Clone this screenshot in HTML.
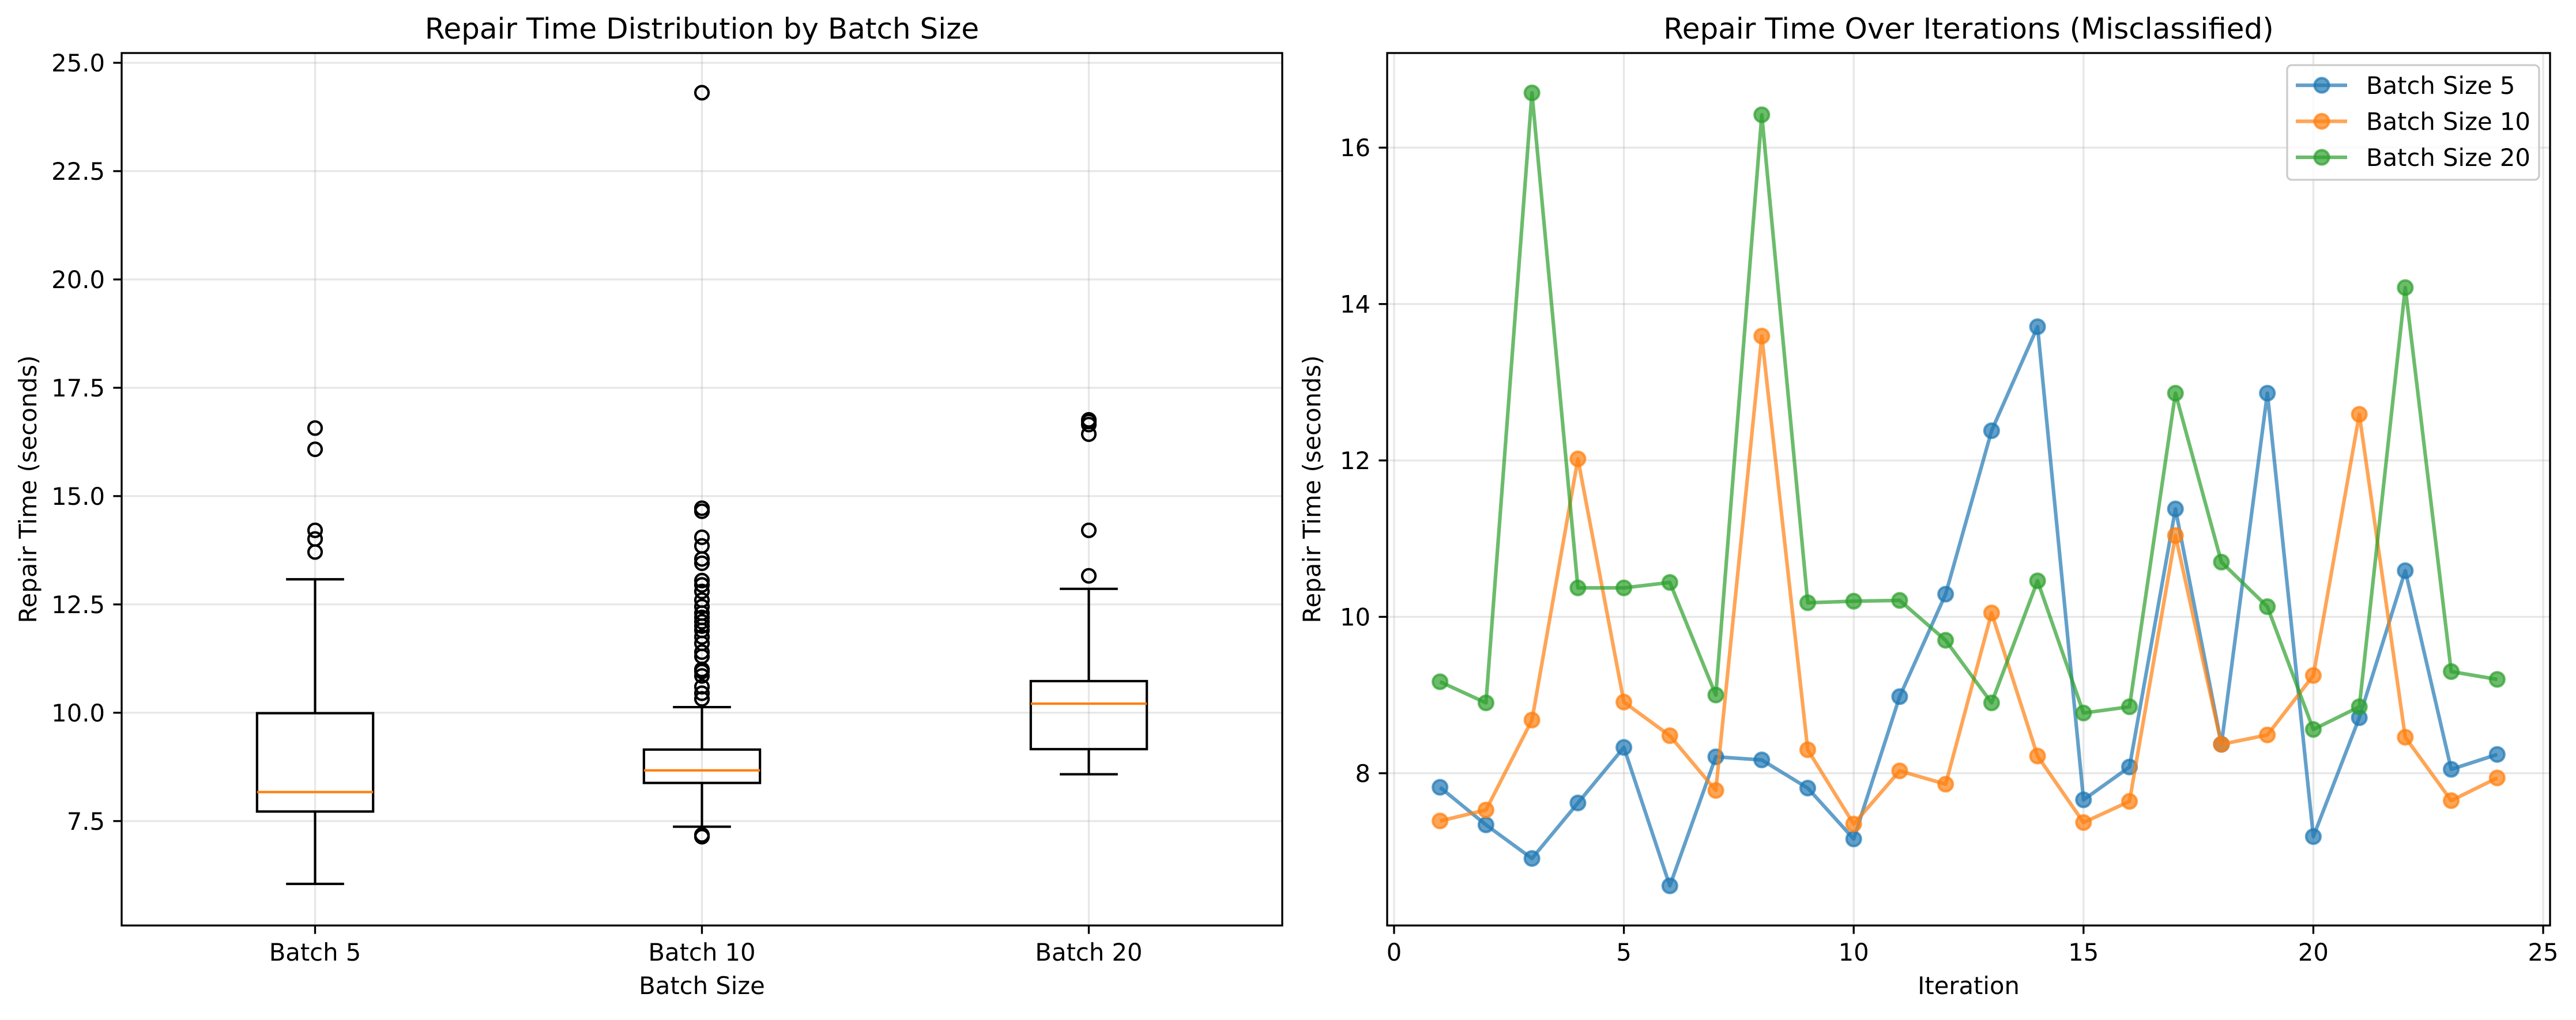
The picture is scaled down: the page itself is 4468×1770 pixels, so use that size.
<!DOCTYPE html>
<html><head><meta charset="utf-8"><style>
body{margin:0;background:#fff}
svg text{font-family:"DejaVu Sans","Liberation Sans",sans-serif;fill:#000}
</style></head><body>
<svg id="fig" xmlns="http://www.w3.org/2000/svg" width="4468" height="1765" viewBox="0 0 4468 1765">
<rect width="4468" height="1765" fill="#fff"/>
<g id="left"></g>
<g id="right"></g>
</svg>
<script>
// ---------- Box plot data ----------
const boxCategories = ["Batch 5", "Batch 10", "Batch 20"];
const boxWhiskerLow = [6.05, 7.37, 8.58];
const boxQ1 = [7.72, 8.38, 9.16];
const boxMedian = [8.17, 8.67, 10.21];
const boxQ3 = [9.99, 9.15, 10.73];
const boxWhiskerHigh = [13.08, 10.13, 12.86];
const boxOutliers5 = [16.57, 16.08, 14.21, 14.01, 13.71];
const boxOutliers10 = [7.14, 7.18, 10.32, 10.45, 10.6, 10.85, 10.95, 11.0, 11.3, 11.4, 11.6, 11.75, 11.9, 12.0, 12.1, 12.2, 12.3, 12.45, 12.6, 12.8, 12.95, 13.05, 13.45, 13.55, 13.85, 14.05, 14.65, 14.72, 24.31];
const boxOutliers20 = [13.16, 14.21, 16.43, 16.65, 16.72, 16.76];
const boxYTicks = [7.5, 10.0, 12.5, 15.0, 17.5, 20.0, 22.5, 25.0];
// ---------- Line chart data ----------
const iterations = [1,2,3,4,5,6,7,8,9,10,11,12,13,14,15,16,17,18,19,20,21,22,23,24];
const series5 = [7.82,7.34,6.91,7.62,8.33,6.56,8.21,8.17,7.81,7.16,8.98,10.29,12.38,13.71,7.66,8.08,11.38,8.37,12.86,7.19,8.71,10.59,8.05,8.24];
const series10 = [7.39,7.53,8.68,12.02,8.91,8.48,7.78,13.59,8.30,7.35,8.03,7.86,10.05,8.22,7.37,7.64,11.04,8.37,8.49,9.25,12.59,8.46,7.65,7.94];
const series20 = [9.17,8.90,16.70,10.37,10.37,10.44,9.00,16.42,10.18,10.20,10.21,9.70,8.90,10.46,8.77,8.85,12.86,10.70,10.13,8.56,8.85,14.21,9.30,9.20];
const seriesNames = ["Batch Size 5", "Batch Size 10", "Batch Size 20"];
const lineXTicks = [0,5,10,15,20,25];
const lineYTicks = [8,10,12,14,16];

const NS = "http://www.w3.org/2000/svg";
function mk(parent, tag, attrs, text){
  const e = document.createElementNS(NS, tag);
  for (const k in attrs) e.setAttribute(k, attrs[k]);
  if (text !== undefined) e.textContent = text;
  parent.appendChild(e);
  return e;
}
const FS = 41.7, TICK = 14.6;

// ================= LEFT =================
const L = document.getElementById('left');
const lx0 = 211, lx1 = 2224, ly0 = 92, ly1 = 1606;
const lyMin = 5.09, lyMax = 25.226;
const ly = v => ly1 - (v - lyMin) / (lyMax - lyMin) * (ly1 - ly0);
const lxc = i => lx0 + (i + 0.5) / 3 * (lx1 - lx0);
const unit = (lx1 - lx0) / 3;

boxYTicks.forEach(t => {
  const g = mk(L, 'line', {x1: lx0, x2: lx1, y1: ly(t), y2: ly(t), stroke: '#b0b0b0', 'stroke-opacity': 0.3, 'stroke-width': 3.33});
  
  
  const tk = mk(L, 'line', {x1: lx0 - TICK, x2: lx0, y1: ly(t), y2: ly(t), stroke: '#000', 'stroke-width': 3.33});
  
  
  const tl = mk(L, 'text', {x: lx0 - 29, y: ly(t) + 15, 'font-size': FS, 'text-anchor': 'end'}, t.toFixed(1));
  
  
});
boxCategories.forEach((c, i) => {
  const x = lxc(i);
  const g = mk(L, 'line', {x1: x, x2: x, y1: ly0, y2: ly1, stroke: '#b0b0b0', 'stroke-opacity': 0.3, 'stroke-width': 3.33});
  
  
  const tk = mk(L, 'line', {x1: x, x2: x, y1: ly1, y2: ly1 + TICK, stroke: '#000', 'stroke-width': 3.33});
  
  
  const tl = mk(L, 'text', {x: x, y: ly1 + 61, 'font-size': FS, 'text-anchor': 'middle'}, c);
  
  
});
const outlierSets = [boxOutliers5, boxOutliers10, boxOutliers20];
boxCategories.forEach((c, i) => {
  const x = lxc(i), hw = unit * 0.15, cw = unit * 0.075;
  const grp = mk(L, 'g', {});
  
  
  const st = {stroke: '#000', 'stroke-width': 4.17, fill: 'none'};
  mk(grp, 'line', Object.assign({x1: x, x2: x, y1: ly(boxQ1[i]), y2: ly(boxWhiskerLow[i])}, st));
  mk(grp, 'line', Object.assign({x1: x, x2: x, y1: ly(boxQ3[i]), y2: ly(boxWhiskerHigh[i])}, st));
  mk(grp, 'line', Object.assign({x1: x - cw, x2: x + cw, y1: ly(boxWhiskerLow[i]), y2: ly(boxWhiskerLow[i])}, st));
  mk(grp, 'line', Object.assign({x1: x - cw, x2: x + cw, y1: ly(boxWhiskerHigh[i]), y2: ly(boxWhiskerHigh[i])}, st));
  mk(grp, 'rect', Object.assign({x: x - hw, y: ly(boxQ3[i]), width: 2 * hw, height: ly(boxQ1[i]) - ly(boxQ3[i])}, st));
  mk(grp, 'line', {x1: x - hw, x2: x + hw, y1: ly(boxMedian[i]), y2: ly(boxMedian[i]), stroke: '#ff7f0e', 'stroke-width': 4.17});
  outlierSets[i].forEach(v => {
    const o = mk(grp, 'circle', {cx: x, cy: ly(v), r: 11.5, fill: 'none', stroke: '#000', 'stroke-width': 4.17});
    
    
  });
});
const lf = mk(L, 'rect', {x: lx0, y: ly0, width: lx1 - lx0, height: ly1 - ly0, fill: 'none', stroke: '#000', 'stroke-width': 3.33});


let t1 = mk(L, 'text', {x: (lx0 + lx1) / 2, y: 67, 'font-size': 50, 'text-anchor': 'middle'}, 'Repair Time Distribution by Batch Size');


let xl1 = mk(L, 'text', {x: (lx0 + lx1) / 2, y: 1725, 'font-size': FS, 'text-anchor': 'middle'}, 'Batch Size');


let yl1 = mk(L, 'text', {x: 0, y: 0, 'font-size': FS, 'text-anchor': 'middle', transform: `translate(63,${(ly0 + ly1) / 2}) rotate(-90)`}, 'Repair Time (seconds)');



// ================= RIGHT =================
const R = document.getElementById('right');
const rx0 = 2406, rx1 = 4423, ry0 = 92, ry1 = 1606;
const rxMin = -0.15, rxMax = 25.15, ryMin = 6.053, ryMax = 17.21;
const rx = v => rx0 + (v - rxMin) / (rxMax - rxMin) * (rx1 - rx0);
const ry = v => ry1 - (v - ryMin) / (ryMax - ryMin) * (ry1 - ry0);

lineYTicks.forEach(t => {
  const g = mk(R, 'line', {x1: rx0, x2: rx1, y1: ry(t), y2: ry(t), stroke: '#b0b0b0', 'stroke-opacity': 0.3, 'stroke-width': 3.33});
  
  
  const tk = mk(R, 'line', {x1: rx0 - TICK, x2: rx0, y1: ry(t), y2: ry(t), stroke: '#000', 'stroke-width': 3.33});
  
  
  const tl = mk(R, 'text', {x: rx0 - 29, y: ry(t) + 15, 'font-size': FS, 'text-anchor': 'end'}, String(t));
  
  
});
lineXTicks.forEach(t => {
  const x = rx(t);
  const g = mk(R, 'line', {x1: x, x2: x, y1: ry0, y2: ry1, stroke: '#b0b0b0', 'stroke-opacity': 0.3, 'stroke-width': 3.33});
  
  
  const tk = mk(R, 'line', {x1: x, x2: x, y1: ry1, y2: ry1 + TICK, stroke: '#000', 'stroke-width': 3.33});
  
  
  const tl = mk(R, 'text', {x: x, y: ry1 + 61, 'font-size': FS, 'text-anchor': 'middle'}, String(t));
  
  
});
const colors = ['#1f77b4', '#ff7f0e', '#2ca02c'];
[series5, series10, series20].forEach((s, k) => {
  const grp = mk(R, 'g', {});
  
  
  const pts = s.map((v, i) => rx(iterations[i]) + ',' + ry(v)).join(' ');
  const pl = mk(grp, 'polyline', {points: pts, fill: 'none', stroke: colors[k], 'stroke-opacity': 0.7, 'stroke-width': 6.25, 'stroke-linejoin': 'round'});
  
  
  s.forEach((v, i) => {
    const c = mk(grp, 'circle', {cx: rx(iterations[i]), cy: ry(v), r: 12.5, fill: colors[k], 'fill-opacity': 0.7, stroke: colors[k], 'stroke-opacity': 0.7, 'stroke-width': 4.17});
    
    
  });
});
const rf = mk(R, 'rect', {x: rx0, y: ry0, width: rx1 - rx0, height: ry1 - ry0, fill: 'none', stroke: '#000', 'stroke-width': 3.33});


// legend
const lg = mk(R, 'g', {});


mk(lg, 'rect', {x: 3967, y: 113, width: 437, height: 199, rx: 8, fill: '#fff', 'fill-opacity': 0.8, stroke: '#cccccc', 'stroke-width': 3.33});
seriesNames.forEach((n, k) => {
  const yy = 148 + k * 62.5;
  const e = mk(lg, 'g', {});
  
  
  mk(e, 'line', {x1: 3982, x2: 4071, y1: yy, y2: yy, stroke: colors[k], 'stroke-opacity': 0.7, 'stroke-width': 6.25});
  mk(e, 'circle', {cx: 4027, cy: yy, r: 12.5, fill: colors[k], 'fill-opacity': 0.7, stroke: colors[k], 'stroke-opacity': 0.7, 'stroke-width': 4.17});
  mk(e, 'text', {x: 4104, y: yy + 15, 'font-size': FS}, n);
});
let t2 = mk(R, 'text', {x: (rx0 + rx1) / 2, y: 67, 'font-size': 50, 'text-anchor': 'middle'}, 'Repair Time Over Iterations (Misclassified)');


let xl2 = mk(R, 'text', {x: (rx0 + rx1) / 2, y: 1725, 'font-size': FS, 'text-anchor': 'middle'}, 'Iteration');


let yl2 = mk(R, 'text', {x: 0, y: 0, 'font-size': FS, 'text-anchor': 'middle', transform: `translate(2290,${(ry0 + ry1) / 2}) rotate(-90)`}, 'Repair Time (seconds)');


</script>
</body></html>
